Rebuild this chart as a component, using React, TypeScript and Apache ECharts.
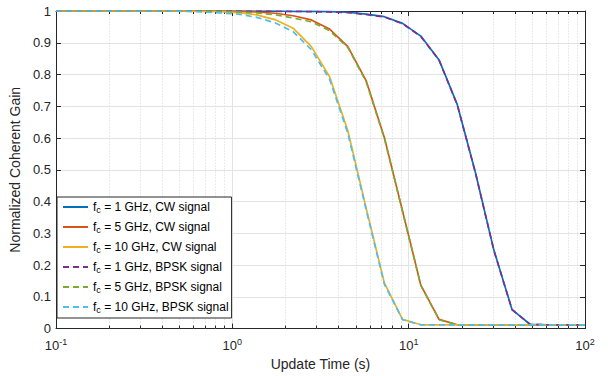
import React, { useEffect, useRef } from "react";
import * as echarts from "echarts";

// Update times (s), log-spaced samples 0.1 .. 100
const times = [
  0.1, 0.1269, 0.161, 0.2043, 0.2593, 0.329, 0.4175, 0.5298, 0.6723, 0.8532,
  1.0826, 1.3738, 1.7433, 2.2122, 2.8072, 3.5622, 4.5204, 5.7362, 7.279, 9.2367,
  11.721, 14.8735, 18.8739, 23.9503, 30.392, 38.5662, 48.939, 62.1017, 78.8046, 100,
];

const cw1 = [
  1, 1, 1, 1, 1, 1, 1, 1, 1, 1,
  1, 1, 1, 0.999, 0.999, 0.998, 0.996, 0.99, 0.982, 0.961,
  0.921, 0.846, 0.705, 0.49, 0.248, 0.06, 0.013, 0.012, 0.012, 0.012,
];
const cw5 = [
  1, 1, 1, 1, 1, 1, 1, 1, 1, 1,
  0.999, 0.997, 0.993, 0.985, 0.972, 0.943, 0.888, 0.781, 0.602, 0.37,
  0.137, 0.029, 0.012, 0.012, 0.012, 0.012, 0.012, 0.012, 0.012, 0.012,
];
const cw10 = [
  1, 1, 1, 1, 1, 1, 1, 1, 0.999, 0.998,
  0.995, 0.988, 0.973, 0.946, 0.888, 0.793, 0.623, 0.38, 0.144, 0.029,
  0.012, 0.012, 0.012, 0.012, 0.012, 0.012, 0.012, 0.012, 0.012, 0.012,
];
const bpsk1 = [
  1, 1, 1, 1, 1, 1, 1, 1, 1, 1,
  1, 1, 0.999, 0.999, 0.998, 0.997, 0.995, 0.989, 0.981, 0.96,
  0.92, 0.845, 0.704, 0.489, 0.247, 0.06, 0.013, 0.012, 0.012, 0.012,
];
const bpsk5 = [
  1, 1, 1, 1, 1, 1, 1, 1, 1, 0.999,
  0.997, 0.994, 0.988, 0.978, 0.966, 0.938, 0.885, 0.778, 0.6, 0.368,
  0.136, 0.028, 0.012, 0.012, 0.012, 0.012, 0.012, 0.012, 0.012, 0.012,
];
const bpsk10 = [
  1, 1, 1, 1, 1, 1, 1, 0.999, 0.997, 0.994,
  0.99, 0.98, 0.963, 0.935, 0.878, 0.785, 0.615, 0.375, 0.14, 0.028,
  0.012, 0.012, 0.012, 0.012, 0.012, 0.012, 0.012, 0.012, 0.012, 0.012,
];

const seriesNames = [
  "fc = 1 GHz, CW signal",
  "fc = 5 GHz, CW signal",
  "fc = 10 GHz, CW signal",
  "fc = 1 GHz, BPSK signal",
  "fc = 5 GHz, BPSK signal",
  "fc = 10 GHz, BPSK signal",
];
const seriesValues = [cw1, cw5, cw10, bpsk1, bpsk5, bpsk10];
const seriesColors = ["#0072BD", "#D95319", "#EDB120", "#7E2F8E", "#77AC30", "#4DBEEE"];
const seriesDashed = [false, false, false, true, true, true];

const xTickLabels = ["10^-1", "10^0", "10^1", "10^2"];
const minorTicks = [
  0.2, 0.3, 0.4, 0.5, 0.6, 0.7, 0.8, 0.9,
  2, 3, 4, 5, 6, 7, 8, 9,
  20, 30, 40, 50, 60, 70, 80, 90,
];

const FONT = "'Liberation Sans', Arial, Helvetica, sans-serif";
const AXIS_COLOR = "#262626";

export default function App() {
  const ref = useRef<HTMLDivElement>(null);

  useEffect(() => {
    if (!ref.current) return;
    const chart = echarts.init(ref.current, undefined, { renderer: "svg" });

    const lineSeries = seriesNames.map((name, i) => ({
      name,
      type: "line",
      xAxisIndex: 0,
      yAxisIndex: 0,
      showSymbol: false,
      symbol: "none",
      color: seriesColors[i],
      lineStyle: {
        color: seriesColors[i],
        width: 1.7,
        type: seriesDashed[i] ? [6, 4] : "solid",
      },
      data: times.map((t, j) => [t, seriesValues[i][j]]),
      z: 3 + i,
    }));

    const minorSeries = {
      name: "minor",
      type: "custom",
      xAxisIndex: 0,
      yAxisIndex: 0,
      silent: true,
      z: 2,
      data: minorTicks.map((v) => [v, 0]),
      renderItem: (_params: any, api: any) => {
        const v = api.value(0);
        const p0 = api.coord([v, 0]);
        const p1 = api.coord([v, 1]);
        const x = Math.round(p0[0]) + 0.5;
        return {
          type: "group",
          children: [
            {
              type: "line",
              shape: { x1: x, y1: p0[1], x2: x, y2: p1[1] },
              style: { stroke: "#d6d6d6", lineWidth: 1, lineDash: [1, 2] },
            },
            {
              type: "line",
              shape: { x1: x, y1: p0[1], x2: x, y2: p0[1] - 3 },
              style: { stroke: AXIS_COLOR, lineWidth: 1 },
            },
            {
              type: "line",
              shape: { x1: x, y1: p1[1], x2: x, y2: p1[1] + 3 },
              style: { stroke: AXIS_COLOR, lineWidth: 1 },
            },
          ],
        };
      },
    };

    const option: any = {
      animation: false,
      backgroundColor: "#ffffff",
      textStyle: { fontFamily: FONT },
      grid: { left: 55, right: 23, top: 11, bottom: 45, containLabel: false },
      legend: {
        show: true,
        orient: "vertical",
        left: 57,
        top: 197,
        data: seriesNames,
        itemWidth: 25,
        itemHeight: 14,
        itemGap: 7,
        padding: [4, 3, 4, 5],
        backgroundColor: "#ffffff",
        borderColor: AXIS_COLOR,
        borderWidth: 1,
        borderRadius: 0,
        itemStyle: { opacity: 0 },
        formatter: (name: string) => `{f|f}{sub|c}{t|${name.slice(2)}}`,
        textStyle: {
          fontFamily: FONT,
          fontSize: 12,
          color: "#000000",
          rich: {
            f: { fontFamily: FONT, fontSize: 12, lineHeight: 14, color: "#000" },
            sub: { fontFamily: FONT, fontSize: 9, lineHeight: 4, verticalAlign: "bottom", color: "#000" },
            t: { fontFamily: FONT, fontSize: 12, lineHeight: 14, color: "#000" },
          },
        },
      },
      xAxis: [
        {
          type: "log",
          logBase: 10,
          min: 0.1,
          max: 100,
          position: "bottom",
          name: "Update Time (s)",
          nameLocation: "middle",
          nameGap: 25,
          nameTextStyle: { fontFamily: FONT, fontSize: 14, color: AXIS_COLOR },
          axisLine: { show: true, onZero: false, lineStyle: { color: AXIS_COLOR, width: 1 } },
          axisTick: { show: true, inside: true, length: 5, lineStyle: { color: AXIS_COLOR } },
          axisLabel: {
            show: true,
            margin: 9,
            color: AXIS_COLOR,
            fontFamily: FONT,
            formatter: (v: number) => {
              const e = Math.round(Math.log10(v));
              const lbl = xTickLabels[e + 1] || `10^${e}`;
              const [b, s] = lbl.split("^");
              return `{b|${b}}{sup|${s}}`;
            },
            rich: {
              b: { fontFamily: FONT, fontSize: 13, lineHeight: 16, color: AXIS_COLOR },
              sup: { fontFamily: FONT, fontSize: 9, lineHeight: 6, verticalAlign: "top", color: AXIS_COLOR },
            },
          },
          splitLine: { show: true, lineStyle: { color: "#e3e3e3", width: 1, type: "solid" } },
        },
        {
          type: "log",
          logBase: 10,
          min: 0.1,
          max: 100,
          position: "top",
          axisLine: { show: true, onZero: false, lineStyle: { color: AXIS_COLOR, width: 1 } },
          axisTick: { show: true, inside: true, length: 5, lineStyle: { color: AXIS_COLOR } },
          axisLabel: { show: false },
          splitLine: { show: false },
        },
      ],
      yAxis: [
        {
          type: "value",
          min: 0,
          max: 1,
          interval: 0.1,
          position: "left",
          name: "Normalized Coherent Gain",
          nameLocation: "middle",
          nameGap: 21,
          nameTextStyle: { fontFamily: FONT, fontSize: 14, color: AXIS_COLOR },
          axisLine: { show: true, onZero: false, lineStyle: { color: AXIS_COLOR, width: 1 } },
          axisTick: { show: true, inside: true, length: 5, lineStyle: { color: AXIS_COLOR } },
          axisLabel: { show: true, margin: 5, fontFamily: FONT, fontSize: 13, color: AXIS_COLOR },
          splitLine: { show: true, lineStyle: { color: "#e3e3e3", width: 1 } },
        },
        {
          type: "value",
          min: 0,
          max: 1,
          interval: 0.1,
          position: "right",
          axisLine: { show: true, onZero: false, lineStyle: { color: AXIS_COLOR, width: 1 } },
          axisTick: { show: true, inside: true, length: 5, lineStyle: { color: AXIS_COLOR } },
          axisLabel: { show: false },
          splitLine: { show: false },
        },
      ],
      series: [minorSeries, ...lineSeries],
    };

    chart.setOption(option);
    return () => chart.dispose();
  }, []);

  return (
    <div
      ref={ref}
      style={{ position: "absolute", left: 0, top: 0, width: 608, height: 376 }}
    />
  );
}
